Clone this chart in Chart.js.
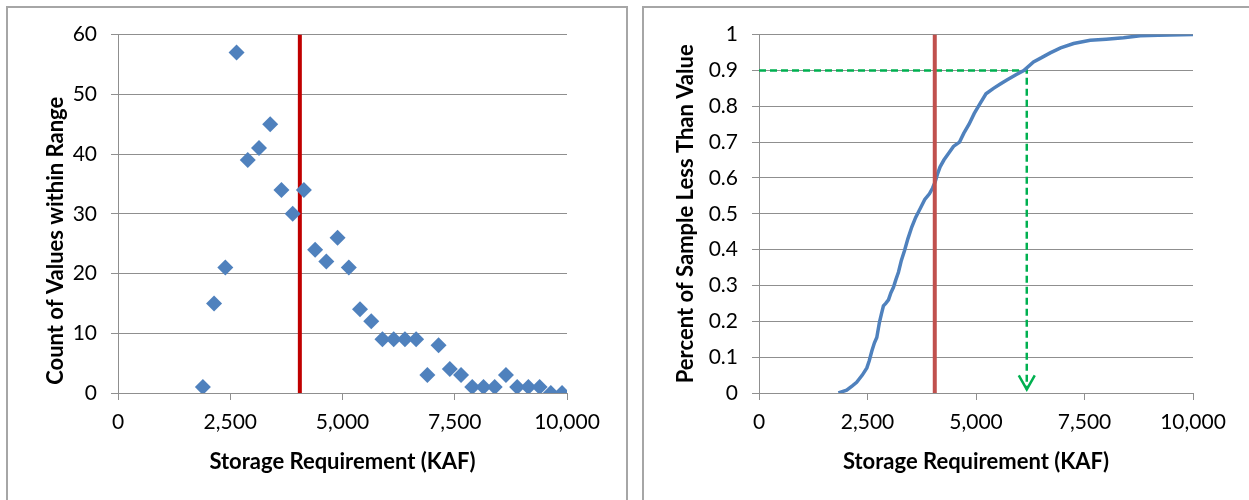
<!DOCTYPE html>
<html>
<head>
<meta charset="utf-8">
<script src="https://cdn.jsdelivr.net/npm/chart.js@4.4.1/dist/chart.umd.min.js"></script>
<style>
  body { margin: 0; background: #fff; width: 1249px; height: 500px; overflow: hidden; position: relative; }
  .frame { position: absolute; border: 2px solid #a6a6a6; box-sizing: border-box; }
  canvas { position: absolute; }
</style>
</head>
<body>
<div class="frame" style="left:6px;top:6px;width:622px;height:520px"></div>
<div class="frame" style="left:642px;top:6px;width:640px;height:520px"></div>
<canvas id="hist-chart" width="618" height="492" style="left:8px;top:8px"></canvas>
<canvas id="cdf-chart" width="605" height="492" style="left:644px;top:8px"></canvas>
<script>
// Histogram: bin centres (KAF) and counts
const binCenters = [
  1890, 2140, 2390, 2640, 2890, 3140, 3390, 3640, 3890, 4140, 4390,
  4640, 4890, 5140, 5390, 5640, 5890, 6140, 6390, 6640, 6890, 7140,
  7390, 7640, 7890, 8140, 8390, 8640, 8890, 9140, 9390, 9640, 9890,
];
const binCounts = [
  1, 15, 21, 57, 39, 41, 45, 34, 30, 34, 24,
  22, 26, 21, 14, 12, 9, 9, 9, 9, 3, 8,
  4, 3, 1, 1, 1, 3, 1, 1, 1, 0, 0,
];

// Cumulative distribution (storage KAF vs fraction of sample below)
const cdfStorage = [
  1830, 2020, 2150, 2250, 2380, 2485, 2540, 2600, 2660, 2714, 2750,
  2775, 2820, 2867, 2920, 2983, 3040, 3098, 3150, 3213, 3280, 3352,
  3430, 3520, 3610, 3712, 3820, 3927, 4000, 4058, 4110, 4173, 4260,
  4366, 4480, 4620, 4720, 4840, 4960, 5096, 5230, 5403, 5560, 5711,
  5920, 6100, 6325, 6500, 6710, 6950, 7248, 7632, 8000, 8400, 8785,
  9200, 10000,
];
const cdfFraction = [
  0, 0.008, 0.02, 0.03, 0.05, 0.07, 0.09, 0.117, 0.14, 0.155, 0.18,
  0.197, 0.22, 0.243, 0.25, 0.26, 0.28, 0.295, 0.315, 0.337, 0.37, 0.397,
  0.43, 0.463, 0.49, 0.514, 0.54, 0.556, 0.572, 0.589, 0.61, 0.631, 0.65,
  0.668, 0.688, 0.7, 0.725, 0.75, 0.78, 0.808, 0.835, 0.85, 0.862, 0.873,
  0.888, 0.9, 0.924, 0.935, 0.949, 0.963, 0.975, 0.984, 0.987, 0.991, 0.997,
  0.998, 1.0,
];

// Reference lines
const designStorage = 4050;
const targetFraction = 0.9;
const storageAtTarget = 6170;
const arrowTipFraction = 0.01;

// Axis ticks
const xTickStep = 2500;
const xMax = 10000;
const histYMax = 60;
const histYStep = 10;
const cdfYMax = 1;
const cdfYStep = 0.1;

const blue = "#4F81BD";
const gridGray = "#8f8f8f";
const fontFamily = "Lato, 'Open Sans', sans-serif";

// Rotated y-axis title, placed relative to the chart area
const yTitlePlugin = {
  id: "yTitle",
  afterDraw(chart, args, opts) {
    if (!opts.text) return;
    const { ctx, chartArea } = chart;
    ctx.save();
    ctx.translate(chartArea.left + opts.dx, (chartArea.top + chartArea.bottom) / 2 + opts.dy);
    ctx.rotate(-Math.PI / 2);
    ctx.font = `bold 22px ${fontFamily}`;
    ctx.fillStyle = "#000";
    ctx.textAlign = "center";
    ctx.textBaseline = "middle";
    ctx.fillText(opts.text, 0, 0);
    ctx.restore();
  },
};

// Open arrow head at the end of the green dashed guide
const arrowPlugin = {
  id: "arrowHead",
  afterDatasetsDraw(chart, args, opts) {
    if (opts.datasetIndex === undefined) return;
    const meta = chart.getDatasetMeta(opts.datasetIndex);
    const tip = meta.data[meta.data.length - 1];
    if (!tip) return;
    const ctx = chart.ctx;
    ctx.save();
    ctx.strokeStyle = opts.color;
    ctx.lineWidth = 2.5;
    ctx.setLineDash([]);
    ctx.beginPath();
    ctx.moveTo(tip.x - 8, tip.y - 14);
    ctx.lineTo(tip.x, tip.y);
    ctx.lineTo(tip.x + 8, tip.y - 14);
    ctx.stroke();
    ctx.restore();
  },
};

function makeScales(yMax, yStep, yWidth, yFormat) {
  return {
    x: {
      type: "linear",
      min: 0,
      max: xMax,
      ticks: {
        stepSize: xTickStep,
        color: "#000",
        padding: 10,
        font: { family: fontFamily, size: 21 },
      },
      grid: { drawOnChartArea: false, drawTicks: true, tickLength: 7, color: gridGray },
      border: { display: true, color: gridGray },
      title: {
        display: true,
        text: "Storage Requirement (KAF)",
        color: "#000",
        font: { family: fontFamily, size: 22, weight: "bold" },
        padding: { top: 0, bottom: 25 },
      },
      afterFit: (scale) => { scale.height = 107; },
    },
    y: {
      type: "linear",
      min: 0,
      max: yMax,
      ticks: {
        stepSize: yStep,
        color: "#000",
        padding: 14,
        font: { family: fontFamily, size: 21 },
        callback: yFormat,
      },
      grid: { color: gridGray, tickLength: 7 },
      border: { display: true, color: gridGray },
      afterFit: (scale) => { scale.width = yWidth; },
    },
  };
}

function pairs(xs, ys) {
  return xs.map((x, i) => ({ x: x, y: ys[i] }));
}

// Left chart: histogram counts
new Chart(document.getElementById("hist-chart"), {
  type: "scatter",
  data: {
    datasets: [
      {
        label: "Count",
        data: pairs(binCenters, binCounts),
        pointStyle: "rectRot",
        pointRadius: 8,
        pointBorderWidth: 0,
        backgroundColor: blue,
        borderColor: blue,
        order: 0,
      },
      {
        label: "Design storage",
        data: [{ x: designStorage, y: 0 }, { x: designStorage, y: histYMax }],
        showLine: true,
        borderColor: "#C00000",
        borderWidth: 4,
        pointRadius: 0,
        order: 1,
      },
    ],
  },
  options: {
    responsive: false,
    animation: false,
    layout: { padding: { left: 0, top: 25, right: 59, bottom: 0 } },
    scales: makeScales(histYMax, histYStep, 110, (v) => String(v)),
    plugins: {
      legend: { display: false },
      tooltip: { enabled: false },
      yTitle: { text: "Count of Values within Range", dx: -62, dy: 27 },
    },
  },
  plugins: [yTitlePlugin],
});

// Right chart: cumulative distribution
new Chart(document.getElementById("cdf-chart"), {
  type: "scatter",
  data: {
    datasets: [
      {
        label: "CDF",
        data: pairs(cdfStorage, cdfFraction),
        showLine: true,
        borderColor: blue,
        borderWidth: 3.5,
        pointRadius: 0,
        order: 1,
      },
      {
        label: "90th percentile",
        data: [
          { x: 0, y: targetFraction },
          { x: storageAtTarget, y: targetFraction },
          { x: storageAtTarget, y: arrowTipFraction },
        ],
        showLine: true,
        borderColor: "#00B050",
        borderWidth: 2.5,
        borderDash: [7, 4],
        pointRadius: 0,
        order: 2,
      },
      {
        label: "Design storage",
        data: [{ x: designStorage, y: 0 }, { x: designStorage, y: cdfYMax }],
        showLine: true,
        borderColor: "#C0504D",
        borderWidth: 4,
        pointRadius: 0,
        order: 0,
      },
    ],
  },
  options: {
    responsive: false,
    animation: false,
    layout: { padding: { left: 0, top: 25, right: 56, bottom: 0 } },
    scales: makeScales(cdfYMax, cdfYStep, 115, (v) => String(+v.toFixed(1))),
    plugins: {
      legend: { display: false },
      tooltip: { enabled: false },
      yTitle: { text: "Percent of Sample Less Than Value", dx: -73, dy: 0 },
      arrowHead: { datasetIndex: 1, color: "#00B050" },
    },
  },
  plugins: [yTitlePlugin, arrowPlugin],
});
</script>
</body>
</html>
